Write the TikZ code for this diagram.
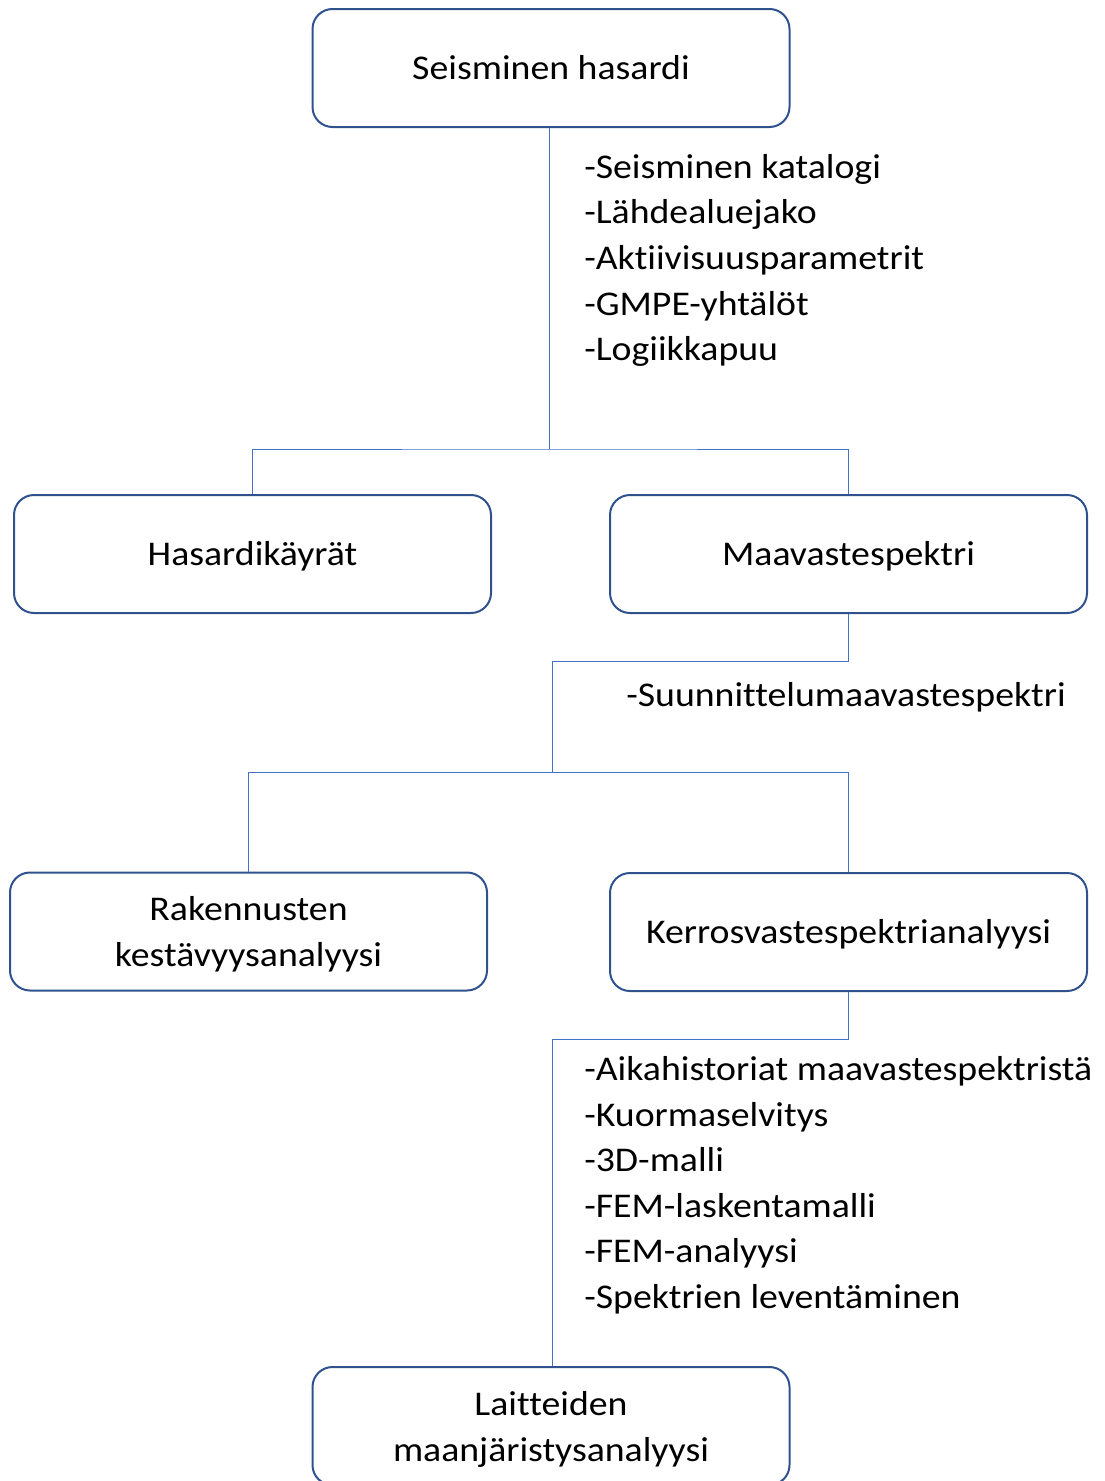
\documentclass[tikz,border=0pt]{standalone}
\usepackage{fontspec}
\setmainfont{Carlito}[FakeStretch=1.09,Ligatures=NoCommon]
\definecolor{boxblue}{HTML}{2F528F}
\definecolor{lineblue}{HTML}{4472C4}
\begin{document}
\begin{tikzpicture}[x=0.75pt,y=-0.75pt,
  every node/.style={font=\fontsize{26}{34.5}\selectfont},
  box/.style={draw=boxblue,line width=1.5pt,rounded corners=15pt,
    minimum width=357.75pt,minimum height=88.5pt,align=center,inner sep=0pt},
  onebox/.style={box,text height=17.75pt,text depth=0pt},
  twobox/.style={box,text width=340pt,text height=0pt,text depth=16pt},
  item/.style={anchor=base west,inner sep=0pt},
  conn/.style={draw=lineblue,line width=0.75pt}]
\useasboundingbox (0,0) rectangle (1104,1481);
% boxes
\node[onebox] (top) at (551,68) {Seisminen hasardi};
\node[onebox] (hk) at (252.5,554) {Hasardikäyrät};
\node[onebox] (mv) at (848.5,554) {Maavastespektri};
\node[twobox] (rk) at (248.5,931.5) {Rakennusten\\kestävyysanalyysi};
\node[onebox] (kv) at (848.5,932) {Kerrosvastespektrianalyysi};
\node[twobox] (la) at (551,1426) {Laitteiden\\maanjäristysanalyysi};
% junctions
\coordinate (j1) at (549,449);
\coordinate (j2) at (552,661);
\coordinate (j3) at (552,772);
\coordinate (j4) at (552,1039);
% connectors
\draw[conn] (j1 |- top.south) -- (j1);
\draw[conn] (hk.north) |- (j1) -| (mv.north);
\draw[conn] (mv.south) |- (j2) -- (j3);
\draw[conn] (rk.north) |- (j3) -| (kv.north);
\draw[conn] (kv.south) |- (j4) -- (j4 |- la.north);
% lists
\node[item] (a1) at (584,178) {-Seisminen katalogi};
\node[item] (a2) at (584,223.7) {-Lähdealuejako};
\node[item] (a3) at (584,269.4) {-Aktiivisuusparametrit};
\node[item] (a4) at (584,315.1) {-GMPE-yhtälöt};
\node[item] (a5) at (584,360.8) {-Logiikkapuu};
\node[item] (s1) at (626,706) {-Suunnittelumaavastespektri};
\node[item] (b1) at (584,1080.5) {-Aikahistoriat maavastespektristä};
\node[item] (b2) at (584,1126) {-Kuormaselvitys};
\node[item] (b3) at (584,1171.5) {-3D-malli};
\node[item] (b4) at (584,1217) {-FEM-laskentamalli};
\node[item] (b5) at (584,1262.5) {-FEM-analyysi};
\node[item] (b6) at (584,1308) {-Spektrien leventäminen};
\end{tikzpicture}
\end{document}
